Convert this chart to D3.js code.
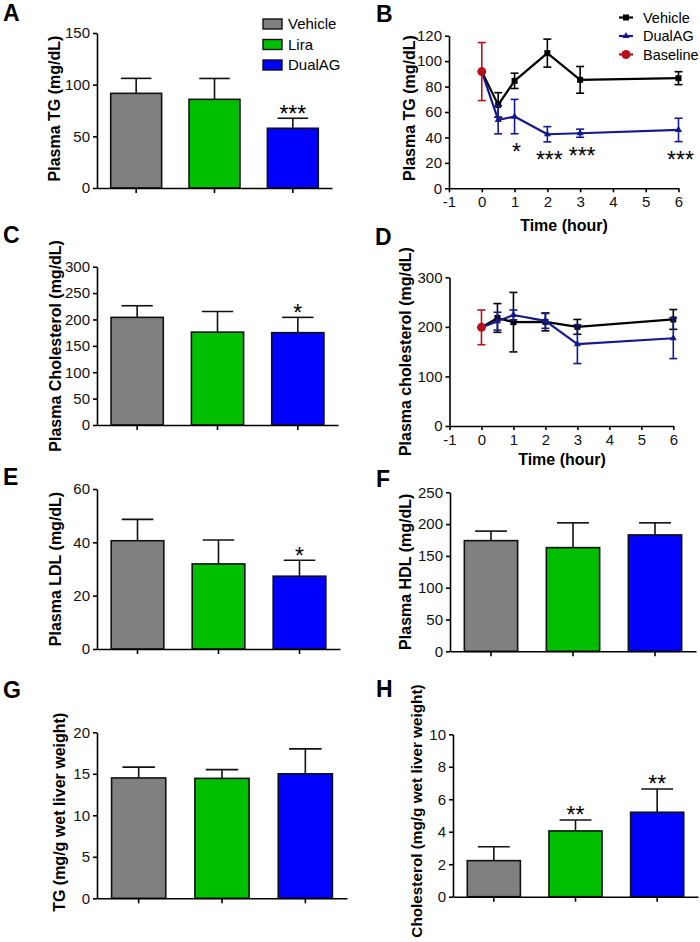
<!DOCTYPE html>
<html><head><meta charset="utf-8">
<script src="https://cdn.jsdelivr.net/npm/d3@7"></script>
<style>
body{margin:0;background:#fff}
svg{display:block;font-family:"Liberation Sans",Arial,sans-serif}
</style></head><body>
<svg id="chart" width="700" height="942"></svg>
<script>
// ---------- data ----------
const groups = ["Vehicle", "Lira", "DualAG"];

const plasmaTG = [91.6, 85.8, 57.8];
const plasmaTGErr = [14.5, 20.2, 9.7];
const plasmaTGStars = ["", "", "***"];
const plasmaTGTicks = [0, 50, 100, 150];

const plasmaChol = [204, 176, 175];
const plasmaCholErr = [22, 39, 29];
const plasmaCholStars = ["", "", "*"];
const plasmaCholTicks = [0, 50, 100, 150, 200, 250, 300];

const plasmaLDL = [40.6, 31.9, 27.3];
const plasmaLDLErr = [8.0, 9.0, 6.0];
const plasmaLDLStars = ["", "", "*"];
const plasmaLDLTicks = [0, 20, 40, 60];

const plasmaHDL = [174, 163, 183];
const plasmaHDLErr = [15, 39, 19];
const plasmaHDLStars = ["", "", ""];
const plasmaHDLTicks = [0, 50, 100, 150, 200, 250];

const liverTG = [14.5, 14.45, 15.0];
const liverTGErr = [1.3, 1.05, 3.0];
const liverTGStars = ["", "", ""];
const liverTGTicks = [0, 5, 10, 15, 20];

const liverChol = [2.22, 4.05, 5.2];
const liverCholErr = [0.86, 0.67, 1.43];
const liverCholStars = ["", "**", "**"];
const liverCholTicks = [0, 2, 4, 6, 8, 10];

const timeHours = [0, 0.5, 1, 2, 3, 6];
const timeTicks = [-1, 0, 1, 2, 3, 4, 5, 6];
const lineSeries = ["Vehicle", "DualAG", "Baseline"];

const tgVehicle = [91.8, 65.6, 84.5, 106.3, 85.3, 86.6];
const tgVehicleErr = [null, 9.6, 6, 11, 10.5, 5.1];
const tgDualAG = [91.8, 53.8, 56.4, 42.5, 43.3, 45.9];
const tgDualAGErr = [null, 11, 13.5, 6, 3.2, 9.2];
const tgBaseline = [91.8];
const tgBaselineErr = [22.8];
const tgTimeStars = ["", "", "*", "***", "***", "***"];
const tgTimeTicks = [0, 20, 40, 60, 80, 100, 120];

const cholVehicle = [199, 218, 209.5, 210, 200, 215];
const cholVehicleErr = [null, 29, 60, 18, 15, 20];
const cholDualAG = [199, 211.5, 224, 212, 165, 177];
const cholDualAGErr = [null, 18, 10, 15, 39, 41];
const cholBaseline = [199];
const cholBaselineErr = [35];
const cholTimeTicks = [0, 100, 200, 300];

// ---------- styles ----------
const barColors = ["#808080", "#00bf00", "#0000ff"];
const lineColors = {Vehicle: "#000000", DualAG: "#141a8c", Baseline: "#b5121b"};
const AX = 1.6;

const svg = d3.select("#chart");

function styleAxis(g) {
  g.selectAll("path.domain").attr("stroke", "#000").attr("stroke-width", AX);
  g.selectAll(".tick line").attr("stroke", "#000").attr("stroke-width", AX);
  g.selectAll(".tick text").attr("font-size", 15).attr("fill", "#111")
    .attr("font-family", '"Liberation Sans",Arial,sans-serif');
}

function letter(t, x, y) {
  svg.append("text").attr("x", x).attr("y", y).attr("font-size", 23)
    .attr("font-weight", "bold").attr("fill", "#000").text(t);
}

function yTitle(t, x, yc, fs) {
  svg.append("text").attr("transform", `translate(${x},${yc}) rotate(-90)`)
    .attr("text-anchor", "middle").attr("dy", "0.32em")
    .attr("font-size", fs || 16).attr("font-weight", "bold").attr("fill", "#000").text(t);
}

function stars(t, x, yc) {
  if (!t) return;
  const fs = 23;
  svg.append("text").attr("x", x).attr("y", yc + 0.56 * fs)
    .attr("text-anchor", "middle").attr("font-size", fs).attr("fill", "#000").text(t);
}

function barPanel(cfg, means, errs, starLabels, ticks) {
  const x = d3.scaleBand().domain(groups).range([cfg.x0, cfg.x1])
    .paddingInner(0.35).paddingOuter(0.175);
  const y = d3.scaleLinear().domain([0, d3.max(ticks)]).range([cfg.y0, cfg.yTop]);
  const g = svg.append("g");
  g.selectAll("rect.bar").data(groups).join("rect")
    .attr("x", d => x(d)).attr("width", x.bandwidth())
    .attr("y", (d, i) => y(means[i])).attr("height", (d, i) => y(0) - y(means[i]))
    .attr("fill", (d, i) => barColors[i]).attr("stroke", "#111").attr("stroke-width", 1.6);
  const cw = x.bandwidth() * 0.6;
  groups.forEach((d, i) => {
    const cx = x(d) + x.bandwidth() / 2;
    const top = y(means[i] + errs[i]);
    g.append("line").attr("x1", cx).attr("x2", cx).attr("y1", y(means[i])).attr("y2", top)
      .attr("stroke", "#111").attr("stroke-width", 1.6);
    g.append("line").attr("x1", cx - cw / 2).attr("x2", cx + cw / 2).attr("y1", top).attr("y2", top)
      .attr("stroke", "#111").attr("stroke-width", 1.6);
    stars(starLabels[i], cx, top - 9.5);
  });
  g.append("g").attr("transform", `translate(${cfg.x0},0)`)
    .call(d3.axisLeft(y).tickValues(ticks).tickSize(4).tickPadding(3).tickSizeOuter(0))
    .call(styleAxis);
  g.append("g").attr("transform", `translate(0,${cfg.y0})`)
    .call(d3.axisBottom(x).tickSize(5).tickSizeOuter(0).tickFormat(""))
    .call(styleAxis);
  yTitle(cfg.title, cfg.titleX, (cfg.y0 + cfg.yTop) / 2 + (cfg.titleDy || 0), cfg.titleFs);
  letter(cfg.letter, cfg.lx, cfg.ly);
}

function linePanel(cfg, series, baseline, starLabels, ticks) {
  const x = d3.scaleLinear().domain([d3.min(timeTicks), d3.max(timeTicks)]).range([cfg.x0, cfg.x1]);
  const y = d3.scaleLinear().domain([0, d3.max(ticks)]).range([cfg.y0, cfg.yTop]);
  const g = svg.append("g");
  g.append("g").attr("transform", `translate(${cfg.x0},0)`)
    .call(d3.axisLeft(y).tickValues(ticks).tickSize(4).tickPadding(3).tickSizeOuter(0))
    .call(styleAxis);
  g.append("g").attr("transform", `translate(0,${cfg.y0})`)
    .call(d3.axisBottom(x).tickValues(timeTicks).tickSize(4).tickPadding(4).tickSizeOuter(0).tickFormat(d => String(d)))
    .call(styleAxis);
  const cw = 8;
  series.forEach(s => {
    const col = lineColors[s.name];
    timeHours.forEach((t, i) => {
      if (s.err[i] == null) return;
      const cx = x(t), a = y(s.vals[i] + s.err[i]), b = y(s.vals[i] - s.err[i]);
      g.append("line").attr("x1", cx).attr("x2", cx).attr("y1", a).attr("y2", b).attr("stroke", col).attr("stroke-width", 1.6);
      [a, b].forEach(yy => g.append("line").attr("x1", cx - cw / 2).attr("x2", cx + cw / 2)
        .attr("y1", yy).attr("y2", yy).attr("stroke", col).attr("stroke-width", 1.6));
    });
    const line = d3.line().x((d, i) => x(timeHours[i])).y(d => y(d));
    g.append("path").datum(s.vals).attr("d", line).attr("fill", "none")
      .attr("stroke", col).attr("stroke-width", 2.2).attr("stroke-linejoin", "round");
    timeHours.forEach((t, i) => {
      if (i === 0) return;
      const cx = x(t), cy = y(s.vals[i]);
      if (s.name === "Vehicle") {
        g.append("rect").attr("x", cx - 3).attr("y", cy - 3).attr("width", 6).attr("height", 6).attr("fill", col);
      } else {
        g.append("path").attr("d", d3.symbol(d3.symbolTriangle, 22)()).attr("transform", `translate(${cx},${cy})`).attr("fill", col);
      }
    });
  });
  const bc = lineColors.Baseline;
  const bx = x(0), ba = y(baseline.val + baseline.err), bb = y(baseline.val - baseline.err);
  g.append("line").attr("x1", bx).attr("x2", bx).attr("y1", ba).attr("y2", bb).attr("stroke", bc).attr("stroke-width", 1.6);
  [ba, bb].forEach(yy => g.append("line").attr("x1", bx - cw / 2).attr("x2", bx + cw / 2)
    .attr("y1", yy).attr("y2", yy).attr("stroke", bc).attr("stroke-width", 1.6));
  g.append("circle").attr("cx", bx).attr("cy", y(baseline.val)).attr("r", 4.5).attr("fill", bc);
  if (starLabels) {
    const d = series.find(s => s.name === "DualAG");
    timeHours.forEach((t, i) => {
      if (!starLabels[i]) return;
      stars(starLabels[i], x(t) + 2, y(d.vals[i] - d.err[i]) + 13.5);
    });
  }
  svg.append("text").attr("x", cfg.xtX).attr("y", cfg.xtY).attr("text-anchor", "middle")
    .attr("font-size", 16).attr("font-weight", "bold").text("Time (hour)");
  yTitle(cfg.title, cfg.titleX, (cfg.y0 + cfg.yTop) / 2 + (cfg.titleDy || 0));
  letter(cfg.letter, cfg.lx, cfg.ly);
}

// ---------- panels ----------
barPanel({x0: 97, x1: 332, yTop: 33, y0: 188, title: "Plasma TG (mg/dL)", titleX: 55, letter: "A", lx: 3, ly: 21, titleDy: -2},
  plasmaTG, plasmaTGErr, plasmaTGStars, plasmaTGTicks);

const lgA = svg.append("g");
groups.forEach((gname, i) => {
  const cy = 24 + i * 20.5;
  lgA.append("rect").attr("x", 263).attr("y", cy - 5).attr("width", 19).attr("height", 10)
    .attr("fill", barColors[i]).attr("stroke", "#111").attr("stroke-width", 1.4);
  lgA.append("text").attr("x", 288).attr("y", cy).attr("dy", "0.36em").attr("font-size", 15).text(gname);
});

linePanel({x0: 449, x1: 678.5, yTop: 35.7, y0: 188.3, title: "Plasma TG (mg/dL)", titleX: 410, letter: "B", lx: 376, ly: 22,
  xtX: 564, xtY: 230.5, titleDy: -4},
  [{name: "Vehicle", vals: tgVehicle, err: tgVehicleErr}, {name: "DualAG", vals: tgDualAG, err: tgDualAGErr}],
  {val: tgBaseline[0], err: tgBaselineErr[0]}, tgTimeStars, tgTimeTicks);

const lgB = svg.append("g");
lineSeries.forEach((s, i) => {
  const cy = 17.5 + i * 18.5, col = lineColors[s];
  lgB.append("line").attr("x1", 619).attr("x2", 633).attr("y1", cy).attr("y2", cy).attr("stroke", col).attr("stroke-width", 2.2);
  if (s === "Vehicle") lgB.append("rect").attr("x", 623).attr("y", cy - 3).attr("width", 6).attr("height", 6).attr("fill", col);
  else if (s === "DualAG") lgB.append("path").attr("d", d3.symbol(d3.symbolTriangle, 22)()).attr("transform", `translate(626,${cy})`).attr("fill", col);
  else lgB.append("circle").attr("cx", 626).attr("cy", cy).attr("r", 4.5).attr("fill", col);
  lgB.append("text").attr("x", 643).attr("y", cy).attr("dy", "0.36em").attr("font-size", 14.5).text(s);
});

barPanel({x0: 97, x1: 338, yTop: 266.7, y0: 425, title: "Plasma Cholesterol (mg/dL)", titleX: 56, letter: "C", lx: 3, ly: 243},
  plasmaChol, plasmaCholErr, plasmaCholStars, plasmaCholTicks);

linePanel({x0: 449.5, x1: 673.3, yTop: 277.3, y0: 426, title: "Plasma cholesterol (mg/dL)", titleX: 406, letter: "D", lx: 375, ly: 245,
  xtX: 562, xtY: 465},
  [{name: "Vehicle", vals: cholVehicle, err: cholVehicleErr}, {name: "DualAG", vals: cholDualAG, err: cholDualAGErr}],
  {val: cholBaseline[0], err: cholBaselineErr[0]}, null, cholTimeTicks);

barPanel({x0: 97, x1: 340, yTop: 489, y0: 649, title: "Plasma LDL (mg/dL)", titleX: 56, letter: "E", lx: 3, ly: 485},
  plasmaLDL, plasmaLDLErr, plasmaLDLStars, plasmaLDLTicks);

barPanel({x0: 450, x1: 696, yTop: 492.3, y0: 651.3, title: "Plasma HDL (mg/dL)", titleX: 406, letter: "F", lx: 376, ly: 487},
  plasmaHDL, plasmaHDLErr, plasmaHDLStars, plasmaHDLTicks);

barPanel({x0: 97, x1: 347, yTop: 732.3, y0: 898.3, title: "TG (mg/g wet liver weight)", titleX: 60, letter: "G", lx: 3, ly: 698, titleDy: -3},
  liverTG, liverTGErr, liverTGStars, liverTGTicks);

barPanel({x0: 453, x1: 698, yTop: 734.3, y0: 896.7, title: "Cholesterol (mg/g wet liver weight)", titleX: 417, letter: "H", lx: 376, ly: 697, titleDy: -4.5, titleFs: 15.3},
  liverChol, liverCholErr, liverCholStars, liverCholTicks);
</script>
</body></html>
